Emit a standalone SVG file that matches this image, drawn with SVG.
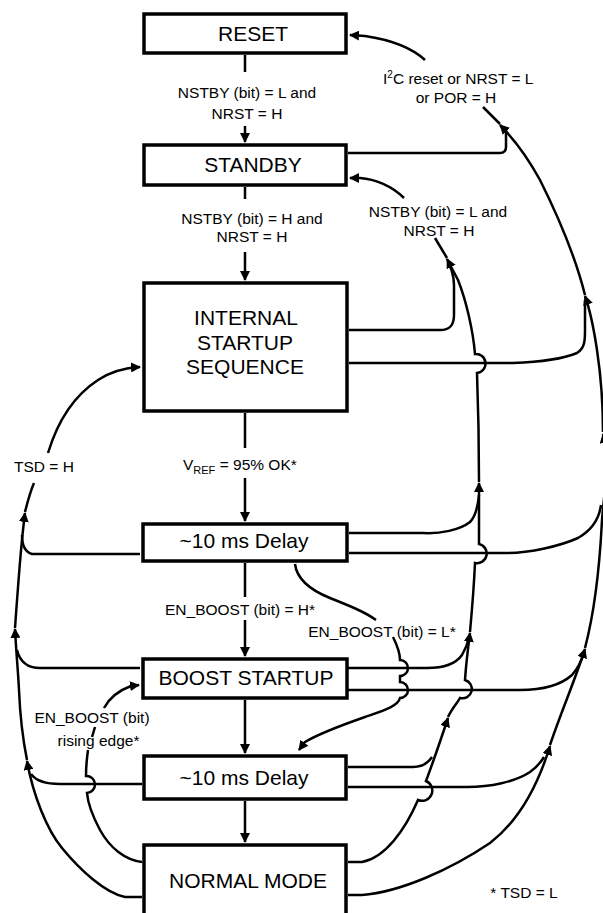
<svg xmlns="http://www.w3.org/2000/svg" width="603" height="913" viewBox="0 0 603 913">
<defs>
<style>
.box{fill:#fff;stroke:#000;stroke-width:3.5}
.t{font-family:"Liberation Sans",Arial,sans-serif;fill:#000}
.bt{font-size:21px;text-anchor:middle}
.lb{font-size:15.5px;text-anchor:middle}
.ls{font-size:15.5px}
.c{fill:none;stroke:#000;stroke-width:2.5}
.a{marker-end:url(#ah)}
</style>
<marker id="ah" viewBox="0 0 10 10" refX="9" refY="5" markerWidth="10" markerHeight="10" markerUnits="userSpaceOnUse" orient="auto"><path d="M0,0 L10,5 L0,10 z" fill="#000"/></marker>
</defs>
<rect width="603" height="913" fill="#fff"/>

<g id="connectors">
  <!-- main vertical chain -->
  <path class="c a" d="M245,55 V72 M245,126 V142"/>
  <path class="c a" d="M245,187 V199 M245,252 V280"/>
  <path class="c a" d="M245,413 V448 M245,478 V521"/>
  <path class="c a" d="M245,563 V597 M245,620 V656"/>
  <path class="c a" d="M245,700 V753"/>
  <path class="c a" d="M245,801 V842"/>

  <!-- reset chain (right outer) -->
  <path class="c a" d="M348,895 H362 C400,892 450,870 490,843 C520,820 538,785 550,746"/>
  <path class="c a" d="M550,745 C560,715 575,680 585,649"/>
  <path class="c a" d="M585,648 C595,610 600,560 602,520 C604,495 608,470 606,450 L603,434"/>
  <path class="c a" d="M603,432 C603,400 600,370 597,350 C594,330 590,310 585,296"/>
  <path class="c a" d="M585,295 C575,255 560,220 540,180 C528,158 515,140 500,125"/>
  <path class="c" d="M500,124 L483,107"/>
  <path class="c a" d="M425,60 C412,48 392,40 365,36 L350,35"/>
  <path class="c" d="M348,787 H467 C490,787 515,782 530,772 C537,767 541,762 544,757"/>
  <path class="c" d="M348,690 H520 C545,690 562,684 572,675 C578,668 582,660 584,652"/>
  <path class="c" d="M349,553 H507 C530,553 560,546 578,538 C592,530 599,520 601,505"/>
  <path class="c" d="M349,363 H513 C540,362 565,358 577,353 C585,348 585,340 585,330 V300"/>
  <path class="c" d="M348,153 H500 Q506,153 506,147 V128"/>

  <!-- standby chain -->
  <path class="c a" d="M348,862 H362 C385,858 405,830 418,800 A8.5,8.5 0 0 0 426,781 C432,765 440,742 448,718"/>
  <path class="c a" d="M448,717 C452,708 458,702 460,698 A9,9 0 0 0 465,680 C466,665 468,648 470,633"/>
  <path class="c a" d="M470,632 C472,610 474,585 475,563 A9.5,9.5 0 0 0 479,544 C479,530 479,505 479,483"/>
  <path class="c a" d="M479,482 C479,440 478,400 477,373 A9,9 0 0 0 475,354 C473,330 466,300 458,280 L447,259"/>
  <path class="c" d="M447,258 L435,238"/>
  <path class="c a" d="M404,198 C392,186 375,179 360,178 L350,178"/>
  <path class="c" d="M348,767 H413 C422,767 428,763 432,757"/>
  <path class="c" d="M348,668 H427 C440,668 455,665 462,655 C466,648 468,642 469,638"/>
  <path class="c" d="M349,533 H423 C440,534 460,530 470,522 C476,516 478,505 479,495"/>
  <path class="c" d="M349,330 H440 C450,330 454,325 454,315 V285 C454,275 450,265 448,262"/>

  <!-- TSD chain (left) -->
  <path class="c a" d="M142,897 H125 C105,893 80,870 62,848 C47,830 33,795 27,761"/>
  <path class="c a" d="M27,760 C23,740 20,715 19,690 C18,670 16,650 15,629"/>
  <path class="c a" d="M15,628 C17,600 20,560 22,540 C23,530 24,520 25,513"/>
  <path class="c" d="M25,512 C28,500 31,490 34,483"/>
  <path class="c a" d="M48,453 C58,420 75,395 98,380 C110,372 122,368 140,367"/>
  <path class="c" d="M142,784 H60 C45,784 36,781 31,774"/>
  <path class="c" d="M140,668 H40 C28,668 20,662 17,650"/>
  <path class="c" d="M140,554 H32 C25,552 22,545 22,535"/>

  <!-- EN_BOOST rising edge -->
  <path class="c" d="M142,862 C125,860 110,848 100,830 C92,815 88,805 87,793 A8,8 0 0 0 86,776 C86,765 87,757 88,750"/>
  <path class="c" d="M95,727 L92,737"/>
  <path class="c a" d="M104,708 C110,697 120,690 131,686 L139,685"/>

  <!-- EN_BOOST = L -->
  <path class="c" d="M295,564 C297,580 310,590 330,598 C350,606 365,612 376,620"/>
  <path class="c a" d="M393,637 C397,645 400,652 400,660 A8,8 0 0 1 400,676 L400,682 A8,8 0 0 1 400,698 C398,706 385,710 365,717 C345,724 320,733 305,742 L299,750"/>
</g>

<g id="reset">
  <rect class="box" x="144" y="14" width="202" height="39"/>
  <text class="t bt" x="253" y="41">RESET</text>
</g>
<g id="standby">
  <rect class="box" x="144" y="145" width="202" height="40"/>
  <text class="t bt" x="253" y="172">STANDBY</text>
</g>
<g id="internal">
  <rect class="box" x="144" y="283" width="203" height="128"/>
  <text class="t bt" x="246" y="325">INTERNAL</text>
  <text class="t bt" x="245" y="350">STARTUP</text>
  <text class="t bt" x="245" y="374">SEQUENCE</text>
</g>
<g id="delay1">
  <rect class="box" x="143" y="524" width="204" height="37"/>
  <text class="t bt" x="244" y="548">~10 ms Delay</text>
</g>
<g id="boost">
  <rect class="box" x="143" y="659" width="204" height="39"/>
  <text class="t bt" x="246" y="685">BOOST STARTUP</text>
</g>
<g id="delay2">
  <rect class="box" x="144" y="756" width="202" height="43"/>
  <text class="t bt" x="244" y="785">~10 ms Delay</text>
</g>
<g id="normal">
  <rect class="box" x="144" y="845" width="202" height="100"/>
  <text class="t bt" x="248" y="888">NORMAL MODE</text>
</g>

<g id="labels">
  <text class="t lb" x="247" y="98">NSTBY (bit) = L and</text>
  <text class="t lb" x="247" y="119">NRST = H</text>
  <text class="t lb" x="252" y="223.5">NSTBY (bit) = H and</text>
  <text class="t lb" x="252" y="242">NRST = H</text>
  <text class="t lb" x="438" y="217">NSTBY (bit) = L and</text>
  <text class="t lb" x="439" y="236">NRST = H</text>
  <text class="t ls" x="383" y="84">I<tspan font-size="10" dy="-6">2</tspan><tspan dy="6">C reset or NRST = L</tspan></text>
  <text class="t lb" x="456" y="103">or POR = H</text>
  <text class="t ls" x="183" y="470">V<tspan font-size="11" dy="4">REF</tspan><tspan dy="-4"> = 95% OK*</tspan></text>
  <text class="t lb" x="44" y="472">TSD = H</text>
  <text class="t lb" x="240" y="615">EN_BOOST (bit) = H*</text>
  <text class="t lb" x="382" y="637">EN_BOOST (bit) = L*</text>
  <text class="t lb" x="92" y="723">EN_BOOST (bit)</text>
  <text class="t lb" x="98.5" y="746">rising edge*</text>
  <text class="t lb" x="524" y="898">* TSD = L</text>
</g>
</svg>
